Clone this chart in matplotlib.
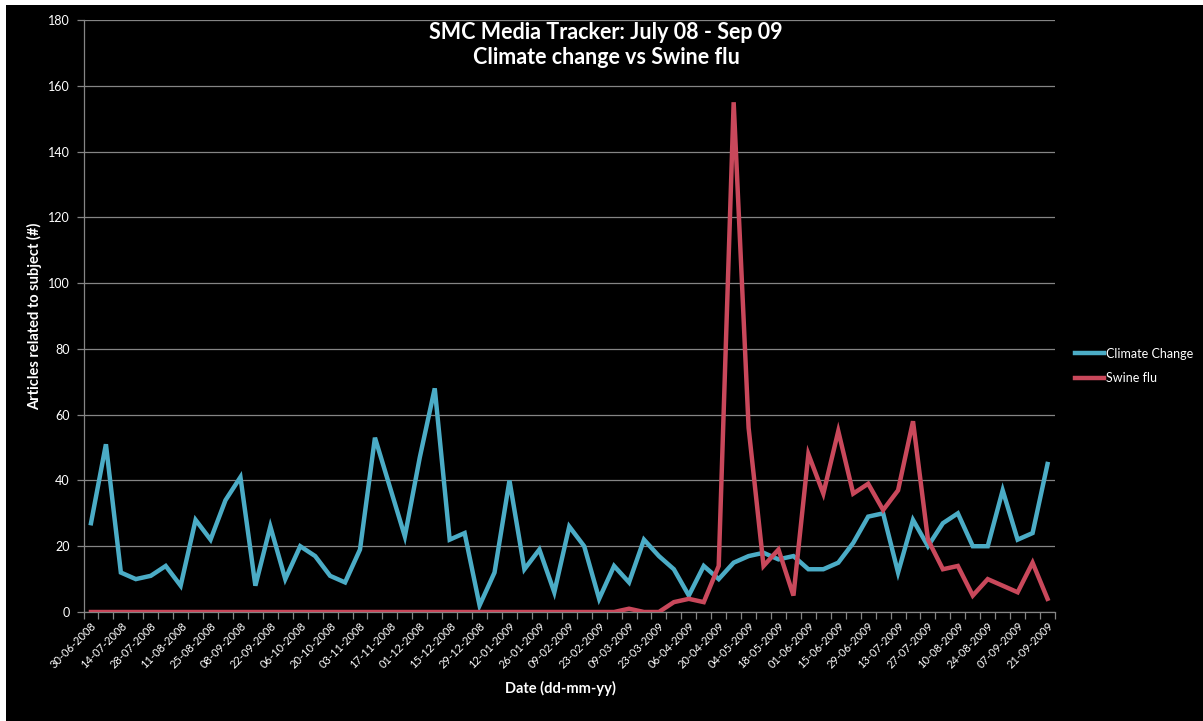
import matplotlib
matplotlib.use('Agg')
import matplotlib.pyplot as plt
import numpy as np
from matplotlib.patches import Rectangle

# weekly article counts, 30-06-2008 .. 21-09-2009
climate = [27, 51, 12, 10, 11, 14, 8, 28, 22, 34, 41, 8, 26, 10, 20, 17,
           11, 9, 19, 53, 38, 23, 47, 68, 22, 24, 2, 12, 40, 13, 19, 6,
           26, 20, 4, 14, 9, 22, 17, 13, 5, 14, 10, 15, 17, 18, 16, 17,
           13, 13, 15, 21, 29, 30, 12, 28, 20, 27, 30, 20, 20, 37, 22, 24, 45]
swine = [0, 0, 0, 0, 0, 0, 0, 0, 0, 0, 0, 0, 0, 0, 0, 0,
         0, 0, 0, 0, 0, 0, 0, 0, 0, 0, 0, 0, 0, 0, 0, 0,
         0, 0, 0, 0, 1, 0, 0, 3, 4, 3, 14, 155, 56, 14, 19, 5,
         48, 36, 55, 36, 39, 31, 37, 58, 22, 13, 14, 5, 10, 8, 6, 15, 4]

# labels shown every second week
tick_labels = ['30-06-2008', '14-07-2008', '28-07-2008', '11-08-2008', '25-08-2008',
               '08-09-2008', '22-09-2008', '06-10-2008', '20-10-2008', '03-11-2008',
               '17-11-2008', '01-12-2008', '15-12-2008', '29-12-2008', '12-01-2009',
               '26-01-2009', '09-02-2009', '23-02-2009', '09-03-2009', '23-03-2009',
               '06-04-2009', '20-04-2009', '04-05-2009', '18-05-2009', '01-06-2009',
               '15-06-2009', '29-06-2009', '13-07-2009', '27-07-2009', '10-08-2009',
               '24-08-2009', '07-09-2009', '21-09-2009']

plt.rcParams['font.family'] = ['Lato', 'DejaVu Sans']

blue = '#4BACC6'
red = '#C9485B'
grid = '#858585'

fig = plt.figure(figsize=(12.03, 7.21), dpi=100, facecolor='white')
# black slide background (thin white margin top/left as in the screenshot)
fig.patches.append(Rectangle((6 / 1203, 0), 1, 1 - 5 / 721, transform=fig.transFigure,
                             facecolor='black', edgecolor='none', zorder=-10))

ax = fig.add_axes([83.5 / 1203, 1 - 612 / 721, (1055 - 83.5) / 1203, (612 - 20) / 721])
ax.set_facecolor('black')

x = np.arange(len(climate))
ax.plot(x, climate, color=blue, lw=3.2, label='Climate Change', solid_joinstyle='miter', zorder=3)
ax.plot(x, swine, color=red, lw=3.2, label='Swine flu', solid_joinstyle='miter', zorder=3)

ax.set_xlim(-0.5, len(climate) - 0.5)
ax.set_ylim(0, 180)
ax.set_yticks(np.arange(0, 181, 20))
ax.yaxis.grid(True, color=grid, lw=0.9)
ax.set_axisbelow(True)

for s in ['top', 'right']:
    ax.spines[s].set_visible(False)
for s in ['left', 'bottom']:
    ax.spines[s].set_color(grid)
    ax.spines[s].set_linewidth(0.9)

ax.tick_params(axis='y', colors=grid, labelcolor='white', length=5, width=0.9,
               labelsize=9, pad=5)

# category-boundary tick marks, labels every 2 weeks
ax.set_xticks(np.arange(-0.5, len(climate), 1.0), minor=True)
ax.set_xticks(x[::2])
ax.set_xticklabels(tick_labels, rotation=45, ha='right', va='top',
                   rotation_mode='anchor', fontsize=8, color='white')
ax.tick_params(axis='x', which='major', length=0, pad=6)
ax.tick_params(axis='x', which='minor', length=5, width=0.9, color=grid)

fig.text(0.504, 0.9556, 'SMC Media Tracker: July 08 - Sep 09', ha='center', va='center',
         color='white', fontsize=15.5, fontweight='bold')
fig.text(0.504, 0.9196, 'Climate change vs Swine flu', ha='center', va='center',
         color='white', fontsize=15.5, fontweight='bold')
fig.text(35 / 1203, 1 - 316 / 721, 'Articles related to subject (#)', rotation=90,
         ha='center', va='center', color='white', fontsize=10.5, fontweight='bold')
fig.text(560 / 1203, 1 - 688 / 721, 'Date (dd-mm-yy)', ha='center', va='center',
         color='white', fontsize=10.5, fontweight='bold')

leg = fig.legend(loc='center left', bbox_to_anchor=(1064 / 1203, 1 - 366 / 721),
                 frameon=False, fontsize=9, handlelength=2.3, handletextpad=0.2,
                 labelspacing=1.0)
for t in leg.get_texts():
    t.set_color('white')

fig.savefig('out.png', dpi=100, facecolor=fig.get_facecolor())
